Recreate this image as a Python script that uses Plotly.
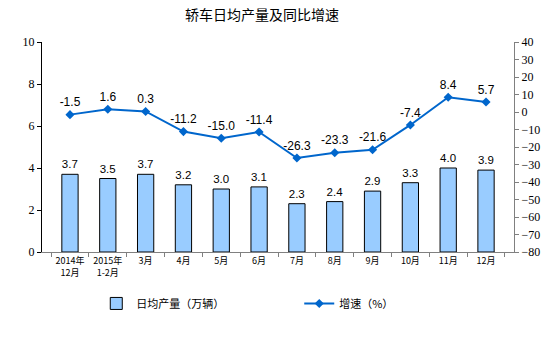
import plotly.graph_objects as go

categories = ["2014年<br>12月", "2015年<br>1-2月", "3月", "4月", "5月", "6月",
              "7月", "8月", "9月", "10月", "11月", "12月"]
daily_output = [3.7, 3.5, 3.7, 3.2, 3.0, 3.1, 2.3, 2.4, 2.9, 3.3, 4.0, 3.9]
growth = [-1.5, 1.6, 0.3, -11.2, -15.0, -11.4, -26.3, -23.3, -21.6, -7.4, 8.4, 5.7]
left_ticks = [0, 2, 4, 6, 8, 10]
right_ticks = list(range(-80, 41, 10))

cjk = "Noto Sans CJK SC"
serif = "Liberation Serif"

fig = go.Figure()
fig.add_trace(go.Bar(
    x=categories, y=daily_output, name="日均产量（万辆）",
    marker=dict(color="#99CCFF", line=dict(color="black", width=1)),
    width=0.43,
    text=[f"{v:.1f}" for v in daily_output], textposition="outside",
    textfont=dict(family="Liberation Sans", size=12, color="black"),
    cliponaxis=False, legend="legend",
))
fig.add_trace(go.Scatter(
    x=categories, y=growth, name="增速（%）", yaxis="y2",
    mode="lines+markers+text",
    line=dict(color="#0066CC", width=2),
    marker=dict(symbol="diamond", size=7, color="#0066CC"),
    text=[f"{v:.1f}" for v in growth], textposition="top center",
    textfont=dict(family="Liberation Sans", size=12, color="black"),
    cliponaxis=False, legend="legend2",
))

legend_common = dict(orientation="h", yanchor="middle", y=-0.245, xanchor="left",
                     bgcolor="rgba(0,0,0,0)",
                     font=dict(family=cjk, size=11, color="black"))

fig.update_layout(
    width=554, height=344,
    margin=dict(l=42, r=40, t=42, b=92, autoexpand=False),
    paper_bgcolor="white", plot_bgcolor="white",
    showlegend=True,
    legend=dict(x=0.115, **legend_common),
    legend2=dict(x=0.545, **legend_common),
    xaxis=dict(type="category", showline=True, linecolor="#808080", linewidth=1,
               ticks="outside", tickson="boundaries", ticklen=4, tickcolor="#808080",
               tickfont=dict(family=cjk, size=9, color="black"), tickangle=0,
               showgrid=False),
    yaxis=dict(range=[0, 10], tickvals=left_ticks, showline=True, linecolor="black",
               linewidth=1, ticks="outside", ticklen=4, tickcolor="black",
               showgrid=False, zeroline=False,
               tickfont=dict(family=serif, size=12, color="black")),
    yaxis2=dict(range=[-80, 40], tickvals=right_ticks, overlaying="y", side="right",
                showline=True, linecolor="#808080", linewidth=1, ticks="outside",
                ticklen=4, tickcolor="#808080", showgrid=False, zeroline=False,
                tickfont=dict(family=serif, size=12, color="black")),
    annotations=[dict(text="轿车日均产量及同比增速", xref="paper", yref="paper",
                      x=0.466, y=1.0, yshift=28, xanchor="center", yanchor="middle",
                      showarrow=False, font=dict(family=cjk, size=14, color="black"))],
)

fig.write_html("out.html")
